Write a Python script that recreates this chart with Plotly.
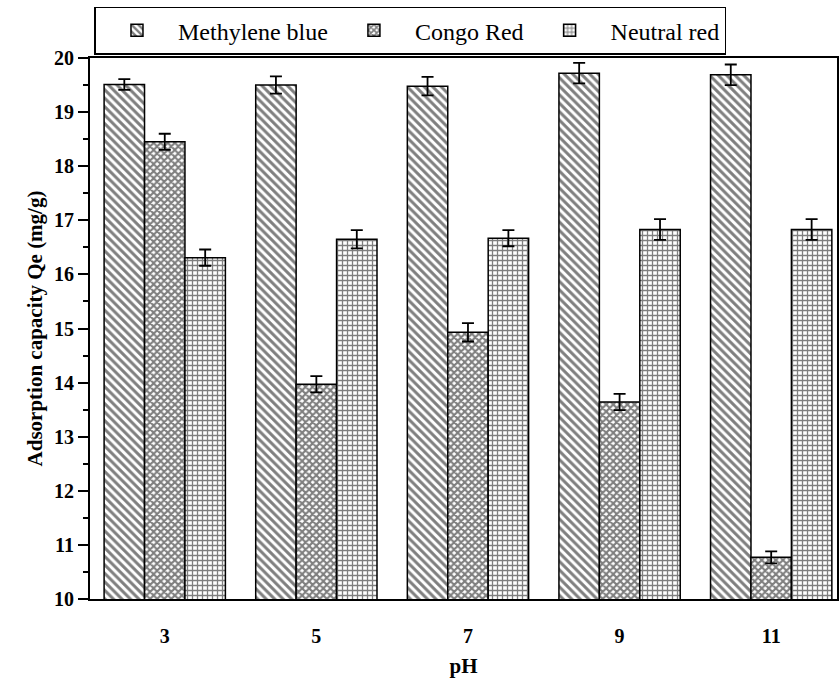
import plotly.graph_objects as go

ph_labels = ["3", "5", "7", "9", "11"]
series_names = ["Methylene blue", "Congo Red", "Neutral red"]
methylene_blue = [19.51, 19.50, 19.48, 19.72, 19.69]
congo_red = [18.45, 13.97, 14.93, 13.64, 10.77]
neutral_red = [16.31, 16.65, 16.67, 16.83, 16.83]
err_mb = [0.10, 0.16, 0.17, 0.19, 0.19]
err_cr = [0.15, 0.15, 0.17, 0.15, 0.11]
err_nr = [0.15, 0.17, 0.15, 0.19, 0.19]

values = [methylene_blue, congo_red, neutral_red]
errors = [err_mb, err_cr, err_nr]
shapes = ["\\", "x", "+"]
sizes = [6, 5, 5]
solids = [0.5, 0.65, 0.45]

FF = "Liberation Serif, Times New Roman, DejaVu Serif, serif"

fig = go.Figure()
for name, vals, errs, shp, sz, so in zip(series_names, values, errors, shapes, sizes, solids):
    fig.add_trace(go.Bar(
        x=ph_labels, y=vals, name=name,
        marker=dict(color="white", line=dict(color="black", width=1.5),
                    pattern=dict(shape=shp, fgcolor="black", bgcolor="white",
                                 size=sz, solidity=so, fillmode="overlay")),
        error_y=dict(type="data", array=errs, visible=True, color="black",
                     thickness=1.8, width=6),
    ))

fig.update_layout(
    width=839, height=678,
    margin=dict(l=90, r=0, t=58, b=73),
    paper_bgcolor="white", plot_bgcolor="white",
    barmode="group", bargap=0.2, bargroupgap=0,
    font=dict(family=FF, color="black"),
    showlegend=True,
    legend=dict(orientation="h", x=0.006, y=1.095, xanchor="left", yanchor="top",
                bordercolor="black", borderwidth=1.5, bgcolor="white",
                font=dict(size=24, family=FF, color="black"), itemwidth=72,
                traceorder="normal"),
    xaxis=dict(
        type="category", range=[-0.493, 4.434],
        showline=True, linecolor="black", linewidth=2, mirror=True,
        ticks="", showgrid=False, zeroline=False,
        tickfont=dict(size=20, family=FF, weight="bold"),
        ticklabelstandoff=18,
        title=dict(text="<b>pH</b>", font=dict(size=21, family=FF), standoff=16),
    ),
    yaxis=dict(
        range=[10, 20], dtick=1, tick0=10,
        showline=True, linecolor="black", linewidth=2, mirror=True,
        ticks="outside", ticklen=10, tickwidth=2, tickcolor="black",
        minor=dict(ticks="outside", ticklen=5, tickwidth=2, dtick=0.5, tickcolor="black"),
        showgrid=False, zeroline=False,
        tickfont=dict(size=20, family=FF, weight="bold"),
        title=dict(text="<b>Adsorption capacity Qe (mg/g)</b>",
                   font=dict(size=21, family=FF), standoff=6),
    ),
)

fig.write_html("out.html")
